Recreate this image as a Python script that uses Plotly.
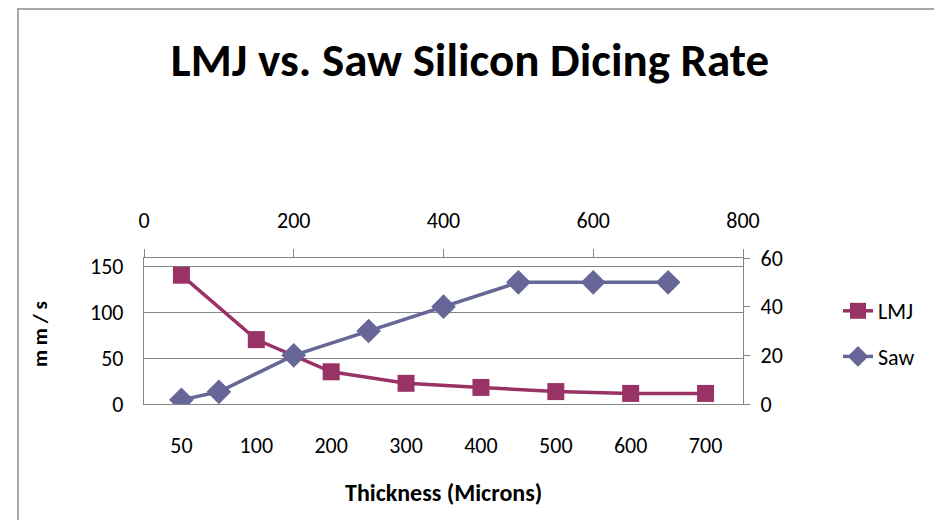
import plotly.graph_objects as go

# ---- data ----
lmj_categories = ["50", "100", "200", "300", "400", "500", "600", "700"]
lmj_values = [140, 70, 35, 22.5, 18, 13.5, 11.5, 11.5]
saw_thickness = [50, 100, 200, 300, 400, 500, 600, 700]
saw_values = [1.7, 5, 20, 30, 40, 50, 50, 50]
left_ticks = [0, 50, 100, 150]
right_ticks = [0, 20, 40, 60]
top_ticks = [0, 200, 400, 600, 800]

# page body has an 8px margin: figure is sized so it fits the 942x528 window
OFF = 8
W, H = 942 - 2 * OFF, 528 - 2 * OFF
L, R, T, B = 144 - OFF, 743 - OFF, 258 - OFF, 404 - OFF  # plot area (figure px)
pw, ph = R - L, B - T

def px_x(x):  # reference page x -> paper coord
    return (x - OFF - L) / pw

def px_y(y):  # reference page y -> paper coord
    return (B - (y - OFF)) / ph

FONT = "Carlito, 'Liberation Sans Narrow', 'DejaVu Sans Condensed', sans-serif"
GRID = "#868686"
LMJ_C = "#993366"
SAW_C = "#666699"
TICK_SIZE = 22

fig = go.Figure()
fig.add_trace(go.Scatter(
    x=lmj_categories, y=lmj_values, name="LMJ", mode="lines+markers",
    line=dict(color=LMJ_C, width=3.5),
    marker=dict(symbol="square", size=17, color=LMJ_C),
    xaxis="x", yaxis="y", legendgroup="lmj",
))
fig.add_trace(go.Scatter(
    x=saw_thickness, y=saw_values, name="Saw", mode="lines+markers",
    line=dict(color=SAW_C, width=3.5),
    marker=dict(symbol="diamond", size=19, color=SAW_C),
    xaxis="x2", yaxis="y2", legendgroup="saw",
))

fig.update_layout(
    width=W, height=H,
    margin=dict(l=L, r=W - R, t=T, b=H - B, pad=0, autoexpand=False),
    paper_bgcolor="white", plot_bgcolor="white",
    font=dict(family=FONT, size=TICK_SIZE, color="black"),
    title=dict(text="<b>LMJ vs. Saw Silicon Dicing Rate</b>",
               font=dict(family=FONT, size=47, color="black"),
               x=(470 - OFF) / W, xanchor="center", xref="container",
               y=1 - (60 - OFF) / H, yanchor="middle", yref="container"),
    xaxis=dict(type="category", categoryorder="array", categoryarray=lmj_categories,
               range=[-0.5, 7.5], showgrid=False, showline=True, linecolor=GRID,
               linewidth=1.3, ticks="", ticklabelstandoff=21, zeroline=False,
               tickfont=dict(size=TICK_SIZE)),
    yaxis=dict(range=[0, 158.7], tickvals=left_ticks, showgrid=True, gridcolor=GRID,
               gridwidth=1.2, showline=True, linecolor=GRID, linewidth=1.3,
               ticks="", zeroline=False, ticklabelstandoff=15,
               tickfont=dict(size=TICK_SIZE)),
    xaxis2=dict(overlaying="x", side="top", anchor="y2", range=[0, 800],
                tickvals=top_ticks, showgrid=False, showline=True, linecolor=GRID,
                linewidth=1.3, ticks="outside", ticklen=8, tickcolor=GRID,
                zeroline=False, ticklabelstandoff=12,
                tickfont=dict(size=TICK_SIZE)),
    yaxis2=dict(overlaying="y", side="right", anchor="x2", range=[0, 60],
                tickvals=right_ticks, showgrid=False, showline=True, linecolor=GRID,
                linewidth=1.3, ticks="outside", ticklen=6, tickcolor=GRID,
                zeroline=False, ticklabelstandoff=6,
                tickfont=dict(size=TICK_SIZE)),
    showlegend=True,
    legend=dict(x=px_x(838), y=px_y(334), xanchor="left", yanchor="middle",
                bgcolor="rgba(0,0,0,0)", font=dict(family=FONT, size=TICK_SIZE),
                tracegroupgap=14, itemsizing="trace"),
    annotations=[
        dict(text="<b>Thickness (Microns)</b>", xref="paper", yref="paper",
             x=px_x(443), y=px_y(492), xanchor="center", yanchor="middle",
             showarrow=False, font=dict(family=FONT, size=24)),
        dict(text="<b>m m / s</b>", xref="paper", yref="paper",
             x=px_x(40), y=px_y(334), xanchor="center", yanchor="middle",
             showarrow=False, textangle=-90, font=dict(family=FONT, size=21)),
    ],
    shapes=[
        dict(type="rect", xref="paper", yref="paper",
             x0=px_x(18), x1=px_x(940), y0=px_y(540), y1=px_y(9),
             line=dict(color="#8a8a8a", width=1.5), fillcolor="rgba(0,0,0,0)",
             layer="below"),
    ],
)

fig.write_html("out.html")
